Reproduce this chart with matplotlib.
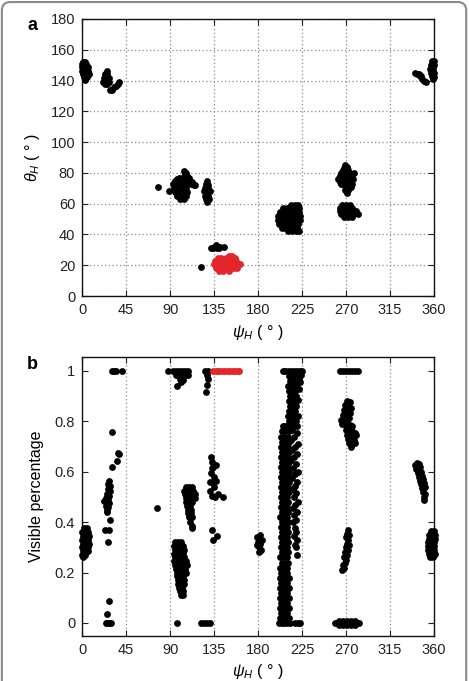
import matplotlib
matplotlib.use("Agg")
import matplotlib.pyplot as plt
from matplotlib.patches import FancyBboxPatch

plt.rcParams['font.family'] = ['Liberation Sans', 'DejaVu Sans']
plt.rcParams['mathtext.fontset'] = 'custom'
plt.rcParams['mathtext.rm'] = 'Liberation Sans'
plt.rcParams['mathtext.it'] = 'Liberation Sans:italic'

# ---- panel a: (psi_H, theta_H) pairs ----
# dense blobs are written as rows: (theta, [psi, ...])
a_edge_left = [(152, [1, 3]), (150.5, [0, 4]), (149, [0, 3, 6]), (147.5, [1.5, 4.5]),
               (146.5, [0, 3, 6]), (145, [1.5, 4.5]), (144, [1, 4, 7]), (142, [2, 5]),
               (140.5, [3])]
a_c25 = [(146, [25]), (144, [23, 26]), (141.5, [22, 25, 28]),
         (139, [21, 24, 27.5]), (137.5, [23, 26])]
a_c35 = [(134, [29, 31]), (135.5, [33]), (136.5, [35]), (137.5, [37]), (139, [38])]
a_c100 = [(77, [99, 102]), (76, [97, 100]), (75, [95, 98, 101, 104]),
          (73.5, [94.5, 97.5, 100.5, 103.5]), (72.5, [93, 96, 99, 102, 105]),
          (71, [95.5, 98.5, 101.5, 104.5]), (70, [94, 97, 100, 103, 106]),
          (68.5, [96.5, 99.5, 102.5, 105.5]), (67.5, [95, 98, 101, 104, 107]),
          (66, [98.5, 101.5, 104.5]), (65, [97, 100, 103, 106]), (63, [100, 104])]
a_lobe = [(81, [104]), (80, [106]), (79, [105]), (78, [107]), (77, [109]),
          (76, [108]), (75, [110]), (74, [112]), (73, [111]), (72, [114, 116])]
a_c128 = [(75, [128]), (73, [127]), (72, [129]), (70, [126, 129]), (69, [127.5]),
          (68, [125, 128, 131]), (66.5, [127]), (65, [126, 129]), (63, [127, 130]), (61, [128])]
a_c138 = [(31, [132, 134, 138, 140]), (32, [135, 139, 141, 145]), (33, [137])]
a_single = [(71, [78]), (68, [89]), (19, [122])]
a_c210 = [(59, [214, 218, 221]), (57, [206, 210, 214, 218, 222]),
          (54.5, [202, 206, 210, 214, 218, 222]), (52, [200, 204, 208, 212, 216, 220, 223]),
          (49.5, [200, 204, 208, 212, 216, 220, 223]), (47, [201, 205, 209, 213, 217, 221]),
          (44.5, [204, 208, 212, 216, 220]), (42, [211, 215, 219, 222])]
a_c270_hi = [(85, [269]), (84, [271]), (83, [268]), (82, [267, 272]), (81, [270]),
             (80, [265, 273, 278]), (79, [269, 276]), (78, [264, 267, 271]),
             (77, [263, 274, 275]), (76, [262, 268, 272, 277]), (75, [266, 270]),
             (74, [264, 274]), (73, [265, 267, 271, 276]), (72, [268, 272]),
             (71, [275]), (70, [270, 273]), (69, [269, 272]), (67, [271])]
a_c270_lo = [(59, [266, 270, 274]), (57, [264, 268, 272, 276]),
             (55, [264, 268, 272, 276, 280]), (53, [265, 269, 273, 277, 282]),
             (51.5, [268, 272, 276])]
a_c345 = [(145, [341]), (144.5, [343]), (144, [345]), (143, [346, 347]),
          (141, [348]), (139.5, [350]), (139, [352])]
a_edge_right = [(152.5, [358, 360]), (150, [357, 360]), (147.5, [356, 359]),
                (145, [357, 360]), (143, [358]), (142, [360]), (141, [359])]
a_red = [(26, [150, 153]), (24.5, [139, 142, 147, 150, 153, 156]),
         (22.5, [136, 139, 142, 145, 148, 151, 154, 157]),
         (20.5, [135, 138, 141, 144, 147, 150, 153, 156, 159, 162]),
         (18.5, [137, 140, 143, 146, 149, 152, 155, 158]),
         (16.5, [140, 144, 150])]

# ---- panel b: (psi_H, visible fraction) ----
b_edge_left = [(0.375, [2, 5]), (0.36, [0, 3, 6]), (0.345, [1, 4, 7]), (0.33, [0, 3, 6]),
               (0.315, [1, 4, 7]), (0.30, [0, 3, 6]), (0.285, [1, 4, 6]),
               (0.27, [0, 3]), (0.26, [1])]
b_c25 = [(0.565, [28]), (0.55, [27]), (0.545, [29]), (0.53, [27]), (0.525, [29]),
         (0.51, [26]), (0.505, [28]), (0.495, [24]), (0.49, [27]), (0.485, [22]),
         (0.48, [25]), (0.475, [28]), (0.465, [24]), (0.46, [27]), (0.45, [25]),
         (0.44, [26]), (0.41, [29]), (0.37, [23.5, 27.5]), (0.323, [27]),
         (0.089, [27.5]), (0.034, [26]), (0.62, [31]), (0.757, [30.5]),
         (0.643, [35.5]), (0.676, [36.5]), (0.67, [37.5]),
         (0.0, [24, 26, 28, 30]), (1.0, [31, 33, 35, 41])]
b_single = [(0.455, [77]), (0.0, [97])]
b_c100_top = [(1.0, [88, 93, 96, 99, 102, 105, 108]), (0.985, [96, 99, 105, 108]),
              (0.98, [102]), (0.97, [100]), (0.965, [103]), (0.955, [101]), (0.94, [97.5])]
b_c100_low = [(0.32, [95, 98, 101]), (0.305, [94, 97, 100, 103]), (0.29, [95, 98, 101, 104]),
              (0.275, [94, 97, 100, 103]), (0.26, [95, 98, 101, 104]),
              (0.245, [94, 97, 100, 103, 106]), (0.23, [95, 98, 101, 104, 107]),
              (0.215, [96, 99, 102, 105]), (0.20, [97, 100, 103, 106]),
              (0.185, [97, 100, 103]), (0.17, [98, 101, 104]), (0.155, [98, 101, 104]),
              (0.14, [99, 102]), (0.125, [100, 103]), (0.11, [101, 103])]
b_c110 = [(0.54, [106, 109, 112]), (0.525, [104, 107, 110, 113]),
          (0.51, [105, 108, 111, 114, 116]), (0.495, [106, 109, 112, 115]),
          (0.48, [106, 109, 112]), (0.465, [107, 110]), (0.45, [108, 111]),
          (0.435, [108, 111]), (0.42, [109, 112]), (0.40, [110]), (0.385, [112]),
          (0.375, [112])]
b_c128 = [(0.0, [122, 125, 128, 131]), (1.0, [126, 129]), (0.985, [127.5]),
          (0.97, [129]), (0.945, [128]), (0.915, [127])]
b_c135 = [(0.66, [132]), (0.64, [133]), (0.625, [137]), (0.62, [134]), (0.615, [133]),
          (0.595, [132]), (0.58, [135]), (0.565, [137]), (0.56, [131]), (0.555, [134]),
          (0.54, [135]), (0.525, [131]), (0.51, [139]), (0.505, [133]), (0.50, [136, 144]),
          (0.37, [132.5]), (0.345, [138]), (0.33, [134])]
b_c180 = [(0.35, [182]), (0.34, [179]), (0.33, [184]), (0.32, [180]), (0.315, [182]),
          (0.31, [179]), (0.30, [181]), (0.29, [183]), (0.28, [181])]
b_col_left = [(0.00, [201, 204, 207, 210, 213]), (0.02, [202, 205.5, 209, 211.5]),
              (0.04, [203, 206.5, 210]), (0.06, [202, 205.5, 209, 211.5]),
              (0.08, [203, 206.5, 210]), (0.10, [202, 205.5, 209, 211.5]),
              (0.12, [203, 206.5, 210]), (0.14, [202, 205.5, 209, 211.5]),
              (0.16, [203, 206.5, 210]), (0.18, [202, 205.5, 209, 211.5]),
              (0.20, [203, 206.5, 210]), (0.22, [202.5, 206, 209.5]),
              (0.24, [204, 207.5, 211]), (0.26, [202.5, 206, 209.5]),
              (0.28, [204, 207.5, 211]), (0.30, [203, 206.5, 210]),
              (0.32, [204, 207.5, 211]), (0.34, [203, 206.5, 210]),
              (0.36, [204, 207.5, 211]), (0.38, [203, 206.5, 210]),
              (0.40, [204, 207.5, 211]), (0.42, [202.5, 206, 209.5]),
              (0.44, [204, 207.5, 211]), (0.46, [203, 206.5, 210]),
              (0.48, [204, 207.5, 211]), (0.50, [203, 206.5, 210]),
              (0.52, [204.5, 208, 211.5]), (0.54, [203.5, 207, 210.5]),
              (0.56, [204.5, 208, 211.5]), (0.58, [203.5, 207, 210.5]),
              (0.60, [204.5, 208, 211.5]), (0.62, [203.5, 207, 210.5]),
              (0.64, [204.5, 208, 211.5]), (0.66, [203.5, 207, 210.5]),
              (0.68, [204.5, 208, 211.5]), (0.70, [203.5, 207, 210.5]),
              (0.72, [204.5, 208, 211.5]), (0.74, [203.5, 207, 210.5]),
              (0.76, [204.5, 208, 211.5]), (0.78, [205, 208, 211, 214, 217, 220])]
b_col_right = [(0.27, [220]), (0.30, [219]), (0.31, [218]), (0.33, [220]), (0.345, [217]),
               (0.36, [219]), (0.375, [218]), (0.40, [216]), (0.41, [219]), (0.43, [217]),
               (0.44, [220]), (0.455, [216]), (0.47, [218]), (0.48, [221]), (0.50, [217]),
               (0.515, [219]), (0.53, [216]), (0.545, [218]), (0.56, [220]), (0.575, [215]),
               (0.59, [218]), (0.60, [221]), (0.615, [216]), (0.63, [219]), (0.645, [214]),
               (0.66, [217]), (0.67, [220]), (0.685, [215]), (0.70, [218]), (0.71, [221]),
               (0.725, [214]), (0.74, [217]), (0.755, [220]), (0.765, [215])]
b_col_top = [(0.80, [212, 215, 219]), (0.82, [211, 214, 217, 221]), (0.84, [212, 215, 218]),
             (0.86, [213, 216, 219]), (0.88, [212, 215, 218]), (0.885, [221]),
             (0.90, [213, 216, 219]), (0.92, [212, 215, 218]), (0.93, [222]),
             (0.94, [211, 214, 217]), (0.95, [220]), (0.955, [223]), (0.96, [213]),
             (0.965, [216]), (0.97, [222]), (0.98, [212, 215]), (0.985, [218, 224]),
             (1.0, [205, 208, 211, 214, 217, 220, 223, 225]), (0.0, [218, 221, 223])]
b_c270 = [(1.0, [264, 267, 270, 273, 276, 279, 282]),
          (0.88, [271]), (0.875, [274]), (0.865, [269]), (0.86, [272]), (0.855, [275]),
          (0.845, [268]), (0.84, [271]), (0.835, [274]), (0.825, [267]), (0.82, [270]),
          (0.815, [273]), (0.805, [265]), (0.80, [268, 271]), (0.79, [266]),
          (0.795, [271]), (0.785, [274]), (0.775, [273]), (0.78, [270, 276]),
          (0.765, [270]), (0.76, [273, 276]), (0.755, [279]), (0.745, [271, 274, 280]),
          (0.74, [277]), (0.73, [272]), (0.725, [275, 278]), (0.715, [273, 279]),
          (0.71, [276]), (0.70, [275]),
          (0.37, [272]), (0.355, [271]), (0.35, [273]), (0.34, [270]), (0.33, [272]),
          (0.315, [271]), (0.31, [273]), (0.30, [270]), (0.29, [272]), (0.28, [269]),
          (0.27, [271]), (0.26, [268]), (0.25, [270]), (0.24, [269]), (0.23, [267]),
          (0.22, [268]), (0.21, [266]),
          (0.0, [259, 262, 265, 268, 271, 274, 277, 280, 283]),
          (0.007, [263, 267, 271, 275, 279]), (-0.007, [263, 267, 271, 275, 279])]
b_c345 = [(0.635, [343]), (0.63, [345]), (0.625, [341]), (0.62, [346]), (0.615, [344]),
          (0.61, [342]), (0.60, [347]), (0.595, [344]), (0.585, [348]), (0.58, [345]),
          (0.57, [349]), (0.565, [346]), (0.555, [350]), (0.55, [347]), (0.54, [351]),
          (0.535, [348]), (0.52, [349]), (0.51, [351]), (0.50, [350]), (0.49, [350])]
b_edge_right = [(0.365, [357, 360]), (0.35, [355, 358, 361]), (0.335, [355, 358, 361]),
                (0.32, [354, 357, 360]), (0.305, [354, 357, 360]), (0.29, [354, 357, 360]),
                (0.275, [355, 358, 361]), (0.26, [356, 359])]
b_red = [(1.0, [134, 136.5, 139, 141.5, 144, 146.5, 149, 151.5, 154, 156.5, 159, 161])]

x_ticks = [0, 45, 90, 135, 180, 225, 270, 315, 360]
a_yticks = [0, 20, 40, 60, 80, 100, 120, 140, 160, 180]
b_yticks = [0, 0.2, 0.4, 0.6, 0.8, 1]
b_yticklabels = ['0', '0.2', '0.4', '0.6', '0.8', '1']

BLACK = '#000000'
RED = '#e3262b'
DOT = 24


def unpack(*groups):
    xs, ys = [], []
    for g in groups:
        for y, row in g:
            for x in row:
                xs.append(x)
                ys.append(y)
    return xs, ys


def style(ax):
    ax.set_xlim(0, 360)
    ax.set_xticks(x_ticks)
    ax.tick_params(direction='in', length=4, width=0.8, top=True, right=True,
                   labelsize=10.5, pad=5, colors='#222222')
    for s in ax.spines.values():
        s.set_linewidth(1.0)
        s.set_color('#111111')


fig = plt.figure(figsize=(4.69, 6.81), dpi=100)

# panel a
ax1 = fig.add_axes([0.175, 0.5653, 0.7505, 0.4068])
style(ax1)
ax1.set_ylim(0, 180)
ax1.set_yticks(a_yticks)
ax1.grid(True, linestyle=(0, (1, 2)), color='#8c8c8c', linewidth=0.9)
ax1.set_axisbelow(True)
bx, by = unpack(a_edge_left, a_c25, a_c35, a_c100, a_lobe, a_c128, a_c138, a_single,
                a_c210, a_c270_hi, a_c270_lo, a_c345, a_edge_right)
ax1.scatter(bx, by, s=DOT, c=BLACK, linewidths=0, clip_on=False, zorder=3)
rx, ry = unpack(a_red)
ax1.scatter(rx, ry, s=DOT, c=RED, linewidths=0, clip_on=False, zorder=3)
ax1.set_xlabel(r'$\psi_H$ ( ° )', fontsize=11.5, labelpad=4)
ax1.set_ylabel(r'$\theta_H$ ( ° )', fontsize=11.5, labelpad=6)

# panel b
ax2 = fig.add_axes([0.175, 0.0661, 0.7505, 0.4097])
style(ax2)
ax2.set_ylim(-0.0516, 1.0556)
ax2.set_yticks(b_yticks)
ax2.set_yticklabels(b_yticklabels)
ax2.grid(True, axis='x', linestyle=(0, (1, 2)), color='#8c8c8c', linewidth=0.9)
ax2.set_axisbelow(True)
bx, by = unpack(b_edge_left, b_c25, b_single, b_c100_top, b_c100_low, b_c110, b_c128,
                b_c135, b_c180, b_col_left, b_col_right, b_col_top, b_c270, b_c345,
                b_edge_right)
ax2.scatter(bx, by, s=DOT, c=BLACK, linewidths=0, clip_on=False, zorder=3)
rx, ry = unpack(b_red)
ax2.scatter(rx, ry, s=DOT, c=RED, linewidths=0, clip_on=False, zorder=3)
ax2.set_xlabel(r'$\psi_H$ ( ° )', fontsize=11.5, labelpad=4)
ax2.set_ylabel('Visible percentage', fontsize=11.5, labelpad=8)

fig.text(32 / 469, 1 - 26 / 681, 'a', fontsize=13, fontweight='bold', ha='center', va='center')
fig.text(32 / 469, 1 - 364 / 681, 'b', fontsize=13, fontweight='bold', ha='center', va='center')

# rounded frame around the figure
frame = FancyBboxPatch((0.004, -0.05), 0.99, 1.047, boxstyle='round,pad=0,rounding_size=0.018',
                       transform=fig.transFigure, fill=False, edgecolor='#8a8a8a',
                       linewidth=1.5, mutation_aspect=469 / 681)
fig.patches.append(frame)

fig.savefig('out.png', dpi=100)
